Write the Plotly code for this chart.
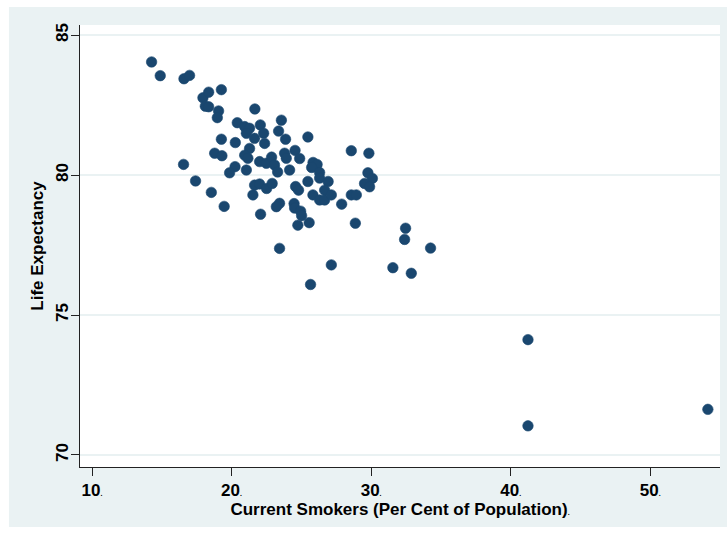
import plotly.graph_objects as go

# Share of population who currently smoke (%) and life expectancy (years)
smokers = [
    14.27, 14.89, 16.59, 16.99, 17.95, 18.36, 18.12, 18.36, 19.27, 19.07, 18.98,
    20.41, 21.67, 20.94, 21.29, 22.06, 21.06, 21.65, 22.30, 19.27, 20.27, 22.37,
    21.29, 20.94, 21.17, 18.79, 19.31, 22.01, 22.49, 20.25, 19.86, 21.06, 16.56,
    17.42, 18.55, 19.47, 23.57, 23.37, 23.87, 25.47, 22.87, 23.08, 23.30, 23.80,
    23.92, 24.55, 24.88, 25.84, 26.13, 25.74, 26.31, 26.31, 24.16, 26.92, 25.47,
    24.59, 24.80, 21.65, 22.01, 22.51, 22.91, 21.53, 26.67, 25.83, 26.31, 26.67,
    27.15, 27.89, 23.44, 23.21, 24.48, 24.52, 24.95, 25.02, 24.75, 25.56, 23.44,
    22.08, 25.66, 28.58, 29.84, 29.77, 30.09, 29.53, 29.89, 28.58, 28.94, 28.87,
    32.47, 32.40, 34.26, 27.15, 31.56, 32.88, 41.24, 41.24, 54.13,
]
life_expectancy = [
    84.04, 83.55, 83.44, 83.56, 82.76, 82.96, 82.46, 82.44, 83.05, 82.29, 82.05,
    81.87, 82.36, 81.73, 81.67, 81.79, 81.49, 81.31, 81.49, 81.28, 81.16, 81.13,
    80.95, 80.71, 80.60, 80.78, 80.69, 80.48, 80.42, 80.30, 80.08, 80.18, 80.38,
    79.79, 79.38, 78.88, 81.96, 81.57, 81.28, 81.36, 80.64, 80.36, 80.11, 80.78,
    80.60, 80.88, 80.59, 80.45, 80.38, 80.27, 80.09, 79.89, 80.18, 79.77, 79.77,
    79.59, 79.46, 79.64, 79.68, 79.52, 79.70, 79.29, 79.46, 79.29, 79.11, 79.11,
    79.29, 78.96, 78.99, 78.87, 78.98, 78.82, 78.71, 78.55, 78.21, 78.30, 77.38,
    78.60, 76.09, 80.87, 80.78, 80.08, 79.88, 79.70, 79.58, 79.29, 79.29, 78.28,
    78.10, 77.70, 77.39, 76.79, 76.69, 76.49, 74.12, 71.04, 71.63,
]

x_ticks = [10, 20, 30, 40, 50]
x_tick_labels = ["10", "20", "30", "40", "50"]
y_ticks = [70, 75, 80, 85]
y_tick_labels = ["70", "75", "80", "85"]

x_title = "Current Smokers (Per Cent of Population)"
y_title = "Life Expectancy"

NAVY = "#1A476F"
REGION = "#EAF2F3"
FONT = "Liberation Sans, Arial, sans-serif"
DOT = "<span style='font-size:7px'>.</span>"

fig = go.Figure(
    go.Scatter(
        x=smokers,
        y=life_expectancy,
        mode="markers",
        marker=dict(size=10.5, color=NAVY, line=dict(width=0.6, color=NAVY)),
        showlegend=False,
        hoverinfo="x+y",
    )
)

fig.update_layout(
    width=727,
    height=534,
    margin=dict(l=80, r=7, t=25, b=67),
    paper_bgcolor="white",
    plot_bgcolor="white",
    font=dict(family=FONT, size=16, color="black", weight="bold"),
    shapes=[
        # graph region fill
        dict(type="rect", xref="paper", yref="paper",
             x0=-0.111, x1=1.011, y0=-0.136, y1=1.041,
             fillcolor=REGION, line=dict(width=0), layer="below"),
        # plot region fill
        dict(type="rect", xref="paper", yref="paper",
             x0=0, x1=1, y0=0, y1=1,
             fillcolor="white", line=dict(width=0), layer="below"),
    ],
)

fig.update_xaxes(
    range=[9.14, 55.0],
    tickmode="array",
    tickvals=x_ticks,
    ticktext=[t + DOT for t in x_tick_labels],
    ticks="outside",
    ticklen=8,
    tickwidth=1,
    tickcolor="#222",
    showline=True,
    linecolor="#222",
    linewidth=1,
    showgrid=False,
    zeroline=False,
    tickfont=dict(size=17, weight="bold"),
    title=dict(text=x_title + DOT, standoff=3,
               font=dict(size=17, weight="bold")),
)

fig.update_yaxes(
    range=[69.57, 85.36],
    tickmode="array",
    tickvals=y_ticks,
    ticktext=y_tick_labels,
    tickangle=-90,
    ticks="outside",
    ticklen=8,
    tickwidth=1,
    tickcolor="#222",
    ticklabelstandoff=-4,
    showline=True,
    linecolor="#222",
    linewidth=1,
    showgrid=True,
    gridcolor=REGION,
    gridwidth=1.5,
    zeroline=False,
    tickfont=dict(size=17, weight="bold"),
    title=dict(text=y_title, standoff=5,
               font=dict(size=17, weight="bold")),
)

fig.write_html("out.html")
